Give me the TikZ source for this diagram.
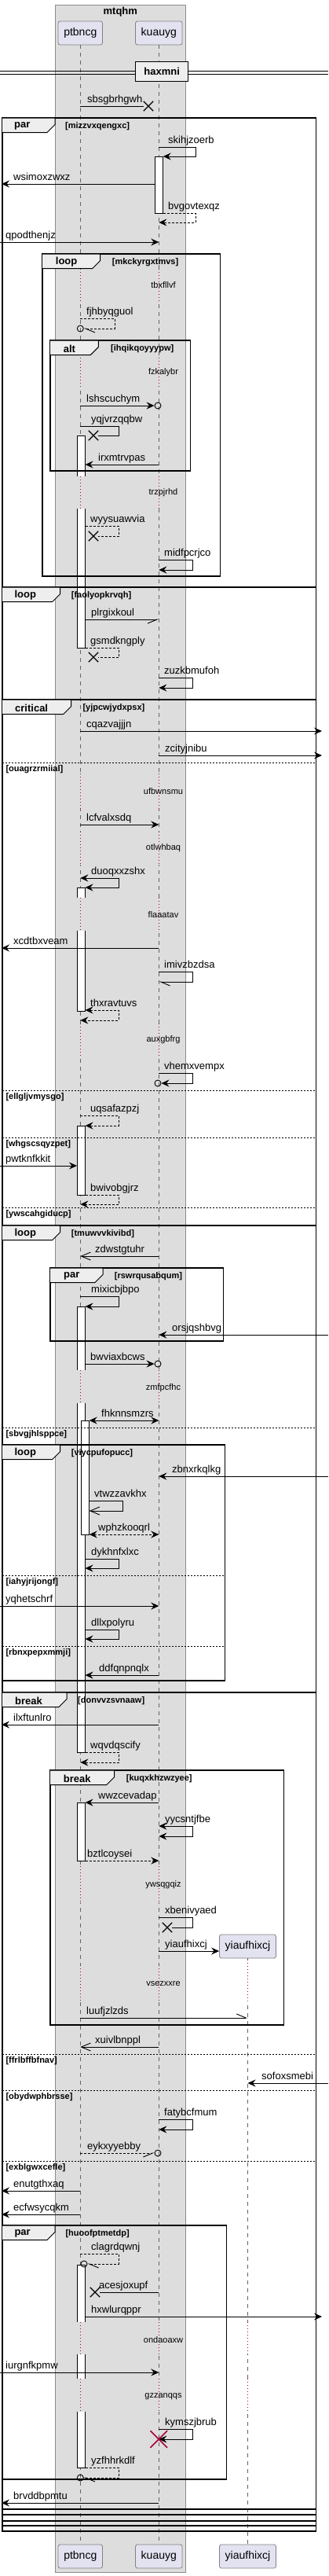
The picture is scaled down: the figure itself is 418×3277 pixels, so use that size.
\documentclass[tikz,border=0pt]{standalone}
\usepackage{fontspec}
\setmainfont{Liberation Sans}
\usetikzlibrary{arrows.meta, shapes.misc}
\definecolor{boxfill}{RGB}{221,221,221}
\definecolor{boxline}{RGB}{140,140,140}
\definecolor{partfill}{RGB}{226,226,240}
\definecolor{partline}{RGB}{130,130,130}
\definecolor{tabfill}{RGB}{238,238,238}
\definecolor{lifecol}{RGB}{100,100,100}
\definecolor{delaycol}{RGB}{168,0,54}
\tikzset{
    fullhead/.tip={Stealth[length=10pt,width=9pt,inset=3.5pt]},
    openhead/.tip={Straight Barb[length=12pt,width=10pt]},
    halfleft/.tip={Straight Barb[left,length=12pt,width=10pt]},
    halfright/.tip={Straight Barb[right,length=12pt,width=10pt]},
    participant/.style={
        rectangle,
        rounded corners=2.5pt,
        draw=partline,
        fill=partfill,
        line width=0.8pt,
        minimum height=30pt,
        inner xsep=7.2pt,
        font=\fontsize{14}{16}\selectfont
    },
    lifeline/.style={
        draw=lifecol,
        line width=0.7pt,
        dash pattern=on 5pt off 5pt
    },
    delayline/.style={
        draw=delaycol,
        line width=0.8pt,
        dash pattern=on 1pt off 3pt
    },
    delaytext/.style={
        font=\fontsize{11}{13}\selectfont,
        inner sep=0pt
    },
    bar/.style={
        fill=white,
        draw=black,
        line width=0.8pt
    },
    fragment/.style={
        draw=black,
        line width=1.5pt
    },
    tab/.style={
        fill=tabfill,
        draw=black,
        line width=1pt
    },
    tabtext/.style={
        font=\fontsize{13}{15}\selectfont\bfseries,
        anchor=west,
        inner sep=0pt
    },
    guard/.style={
        font=\fontsize{11}{13}\selectfont\bfseries,
        anchor=west,
        inner sep=0pt
    },
    separator/.style={
        draw=black,
        line width=0.8pt,
        dash pattern=on 2pt off 2pt
    },
    lbl/.style={
        font=\fontsize{13}{15}\selectfont,
        anchor=base west,
        inner sep=0pt
    },
    call/.style={
        draw=black,
        line width=0.9pt
    },
    ret/.style={
        call,
        dash pattern=on 3pt off 2pt
    },
    cross/.style={
        cross out,
        draw=black,
        line width=1.3pt,
        minimum size=11pt,
        inner sep=0pt
    },
    circ/.style={
        circle,
        draw=black,
        line width=0.9pt,
        minimum size=8pt,
        inner sep=0pt
    }
}

\begin{document}
\begin{tikzpicture}[x=1pt, y=-1pt]
\useasboundingbox (0,0) rectangle (418,3277);

% Box
\draw[fill=boxfill, draw=boxline, line width=0.8pt] (70.3,6) rectangle (236.3,3272);
\node[font=\fontsize{13}{15}\selectfont\bfseries] (mtqhm) at (153.3,15.5) {mtqhm};

% Participants
\node[participant] (pt) at (102.3,42) {ptbncg};
\node[participant] (ku) at (202.3,42) {kuauyg};
\node[participant] (yi) at (315.5,2476) {yiaufhixcj};
\node[participant] (pt2) at (102.3,3252) {ptbncg};
\node[participant] (ku2) at (202.3,3252) {kuauyg};
\node[participant] (yi2) at (315.5,3252) {yiaufhixcj};

% Ends and bar sides
\coordinate (lin) at (0,0);
\coordinate (lout) at (2,0);
\coordinate (rgt) at (410,0);
\coordinate (redge) at (418,0);
\coordinate (ptL) at (98,0);
\coordinate (ptR) at (108.5,0);
\coordinate (ptN) at (113.7,0);
\coordinate (kuL) at (197.3,0);
\coordinate (kuR) at (207.7,0);
\coordinate (ptnarrow) at (146,0);
\coordinate (ptloop) at (151,0);
\coordinate (ptwide) at (156,0);
\coordinate (kuloop) at (245,0);
\coordinate (kuwide) at (249,0);

% Lifelines
\draw[lifeline] (pt.south) -- (pt2.north);
\draw[lifeline] (ku.south) -- (ku2.north);
\draw[lifeline] (yi.south) -- (yi2.north);

% Delays
\fill[boxfill] (100,342) rectangle (105,383) (200,342) rectangle (205,383);
\draw[delayline] (pt |- 0,342) -- (pt |- 0,383) (ku |- 0,342) -- (ku |- 0,383);
\node[delaytext] (tbxfllvf) at (208,363) {tbxfllvf};
\fill[boxfill] (100,455) rectangle (105,493) (200,455) rectangle (205,493);
\draw[delayline] (pt |- 0,455) -- (pt |- 0,493) (ku |- 0,455) -- (ku |- 0,493);
\node[delaytext] (fzkalybr) at (208,474) {fzkalybr};
\fill[boxfill] (100,606) rectangle (105,647) (200,606) rectangle (205,647);
\draw[delayline] (pt |- 0,606) -- (pt |- 0,647) (ku |- 0,606) -- (ku |- 0,647);
\node[delaytext] (trzpjrhd) at (208,627) {trzpjrhd};
\fill[boxfill] (100,984) rectangle (105,1029) (200,984) rectangle (205,1029);
\draw[delayline] (pt |- 0,984) -- (pt |- 0,1029) (ku |- 0,984) -- (ku |- 0,1029);
\node[delaytext] (ufbwnsmu) at (208,1007) {ufbwnsmu};
\fill[boxfill] (100,1058) rectangle (105,1100) (200,1058) rectangle (205,1100);
\draw[delayline] (pt |- 0,1058) -- (pt |- 0,1100) (ku |- 0,1058) -- (ku |- 0,1100);
\node[delaytext] (otlwhbaq) at (208,1079) {otlwhbaq};
\fill[boxfill] (100,1142) rectangle (105,1184) (200,1142) rectangle (205,1184);
\draw[delayline] (pt |- 0,1142) -- (pt |- 0,1184) (ku |- 0,1142) -- (ku |- 0,1184);
\node[delaytext] (flaaatav) at (208,1164) {flaaatav};
\fill[boxfill] (100,1302) rectangle (105,1344) (200,1302) rectangle (205,1344);
\draw[delayline] (pt |- 0,1302) -- (pt |- 0,1344) (ku |- 0,1302) -- (ku |- 0,1344);
\node[delaytext] (auxgbfrg) at (208,1323) {auxgbfrg};
\fill[boxfill] (100,1743) rectangle (105,1785) (200,1743) rectangle (205,1785);
\draw[delayline] (pt |- 0,1743) -- (pt |- 0,1785) (ku |- 0,1743) -- (ku |- 0,1785);
\node[delaytext] (zmfpcfhc) at (208,1766) {zmfpcfhc};
\fill[boxfill] (100,2374) rectangle (105,2420) (200,2374) rectangle (205,2420);
\draw[delayline] (pt |- 0,2374) -- (pt |- 0,2420) (ku |- 0,2374) -- (ku |- 0,2420);
\node[delaytext] (ywsqgqiz) at (208,2398) {ywsqgqiz};
\fill[boxfill] (100,2500) rectangle (105,2545) (200,2500) rectangle (205,2545);
\fill[white] (313,2493) rectangle (318,2545);
\draw[delayline] (pt |- 0,2500) -- (pt |- 0,2545) (ku |- 0,2500) -- (ku |- 0,2545) (yi |- 0,2493) -- (yi |- 0,2545);
\node[delaytext] (vsezxxre) at (208,2524) {vsezxxre};
\fill[boxfill] (100,2954) rectangle (105,2995) (200,2954) rectangle (205,2995);
\fill[white] (313,2954) rectangle (318,2995);
\draw[delayline] (pt |- 0,2954) -- (pt |- 0,2995) (ku |- 0,2954) -- (ku |- 0,2995) (yi |- 0,2954) -- (yi |- 0,2995);
\node[delaytext] (ondaoaxw) at (208,2977) {ondaoaxw};
\fill[boxfill] (100,3026) rectangle (105,3068) (200,3026) rectangle (205,3068);
\fill[white] (313,3026) rectangle (318,3068);
\draw[delayline] (pt |- 0,3026) -- (pt |- 0,3068) (ku |- 0,3026) -- (ku |- 0,3068) (yi |- 0,3026) -- (yi |- 0,3068);
\node[delaytext] (gzzanqqs) at (208,3049) {gzzanqqs};

% Divider
\draw[line width=1pt] (0,90) -- (418,90) (0,94) -- (418,94);
\node[fill=tabfill, draw=black, line width=1.5pt, minimum width=67pt, minimum height=25pt, inner sep=0pt,
      font=\fontsize{13}{15}\selectfont\bfseries] (haxmni) at (206.2,91) {haxmni};

% Activations
\filldraw[bar] (197.3,199) rectangle (207.7,271);
\filldraw[bar] (98,606) -- (98,554) -- (108.5,554) -- (108.5,606);
\filldraw[bar] (98,647) -- (98,824) -- (108.5,824) -- (108.5,647);
\filldraw[bar] (98,1142) -- (98,1129) -- (108.5,1129) -- (108.5,1142);
\filldraw[bar] (98,1184) -- (98,1286) -- (108.5,1286) -- (108.5,1184);
\filldraw[bar] (98,1432) rectangle (108.5,1520);
\filldraw[bar] (98,1743) -- (98,1662) -- (108.5,1662) -- (108.5,1743);
\filldraw[bar] (98,1785) -- (98,2229) -- (108.5,2229) -- (108.5,1785);
\filldraw[bar] (103.3,1807) rectangle (113.7,1952);
\filldraw[bar] (98,2293) rectangle (108.5,2367);
\filldraw[bar] (98,2954) -- (98,2881) -- (108.5,2881) -- (108.5,2954);
\fill[white] (98,2995) rectangle (108.5,3026);
\draw[line width=0.8pt] (98,2995) -- (98,3026) (108.5,2995) -- (108.5,3026);
\filldraw[bar] (98,3068) -- (98,3139) -- (108.5,3139) -- (108.5,3068);

% par mizzvxqengxc
\draw[fragment] (3,150) rectangle (402.5,3220);
\filldraw[tab] (3,150) -- (70,150) -- (70,158.5) -- (60,168.5) -- (3,168.5);
\node[tabtext] (par1) at (18,160.5) {par};
\node[guard] (g1) at (83,161) {[mizzvxqengxc]};

% loop mkckyrgxtmvs
\draw[fragment] (54,323) rectangle (280.7,733);
\filldraw[tab] (54,323) -- (127.7,323) -- (127.7,331.5) -- (117.7,341.5) -- (54,341.5);
\node[tabtext] (loop1) at (70.7,333.5) {loop};
\node[guard] (g2) at (142.7,333.5) {[mkckyrgxtmvs]};

% alt ihqikqoyyypw
\draw[fragment] (64,433) rectangle (242.7,599);
\filldraw[tab] (64,433) -- (125.3,433) -- (125.3,441.5) -- (115.3,451.5) -- (64,451.5);
\node[tabtext] (alt1) at (80.7,443.5) {alt};
\node[guard] (g3) at (141,443.5) {[ihqikqoyyypw]};

% loop faolyopkrvqh
\draw[fragment] (3,747) rectangle (402.5,3213);
\filldraw[tab] (3,747) -- (76.7,747) -- (76.7,755.5) -- (66.7,765.5) -- (3,765.5);
\node[tabtext] (loop2) at (18.3,757.5) {loop};
\node[guard] (g4) at (90.7,757.5) {[faolyopkrvqh]};

% critical yjpcwjydxpsx
\draw[fragment] (3,890) rectangle (402.5,3207);
\filldraw[tab] (3,890) -- (90.7,890) -- (90.7,898.5) -- (80.7,908.5) -- (3,908.5);
\node[tabtext] (crit1) at (19,900.5) {critical};
\node[guard] (g5) at (105.3,900.5) {[yjpcwjydxpsx]};
\draw[separator] (3,970) -- (402.5,970);
\node[guard] (s1) at (7.3,978.5) {[ouagrzrmiial]};
\draw[separator] (3,1387) -- (402.5,1387);
\node[guard] (s2) at (7.3,1395.5) {[ellgljvmysgo]};
\draw[separator] (3,1447) -- (402.5,1447);
\node[guard] (s3) at (7.3,1455.5) {[whgscsqyzpet]};
\draw[separator] (3,1536) -- (402.5,1536);
\node[guard] (s4) at (7.3,1544.5) {[ywscahgiducp]};

% loop tmuwvvkivibd
\draw[fragment] (3,1559) rectangle (402.5,3199);
\filldraw[tab] (3,1559) -- (76.7,1559) -- (76.7,1567.5) -- (66.7,1577.5) -- (3,1577.5);
\node[tabtext] (loop3) at (18.3,1569.5) {loop};
\node[guard] (g6) at (90.7,1569.5) {[tmuwvvkivibd]};
\draw[separator] (3,1816) -- (402.5,1816);
\node[guard] (s5) at (7.3,1824.5) {[sbvgjhlsppce]};

% par rswrqusabqum
\draw[fragment] (64,1613) rectangle (284.7,1706);
\filldraw[tab] (64,1613) -- (131,1613) -- (131,1621.5) -- (121,1631.5) -- (64,1631.5);
\node[tabtext] (par2) at (81,1623.5) {par};
\node[guard] (g7) at (145.7,1623.5) {[rswrqusabqum]};

% loop viycpufopucc
\draw[fragment] (3,1838) rectangle (286.7,2138);
\filldraw[tab] (3,1838) -- (76.7,1838) -- (76.7,1846.5) -- (66.7,1856.5) -- (3,1856.5);
\node[tabtext] (loop4) at (18.3,1848.5) {loop};
\node[guard] (g8) at (90.7,1848.5) {[viycpufopucc]};
\draw[separator] (3,2004) -- (286.7,2004);
\node[guard] (s6) at (7.3,2012.5) {[iahyjrijongf]};
\draw[separator] (3,2094) -- (286.7,2094);
\node[guard] (s7) at (7.3,2102.5) {[rbnxpepxmmji]};

% break donvvzsvnaaw
\draw[fragment] (3,2153) rectangle (402.5,3192);
\filldraw[tab] (3,2153) -- (85,2153) -- (85,2161.5) -- (75,2171.5) -- (3,2171.5);
\node[tabtext] (brk1) at (19,2163.5) {break};
\node[guard] (g9) at (99,2163.5) {[donvvzsvnaaw]};
\draw[separator] (3,2613) -- (402.5,2613);
\node[guard] (s8) at (7.3,2621.5) {[ffrlbffbfnav]};
\draw[separator] (3,2659) -- (402.5,2659);
\node[guard] (s9) at (7.3,2667.5) {[obydwphbrsse]};
\draw[separator] (3,2749) -- (402.5,2749);
\node[guard] (s10) at (7.3,2757.5) {[exblgwxcefle]};

% break kuqxkhzwzyee
\draw[fragment] (64,2252) rectangle (361.7,2576);
\filldraw[tab] (64,2252) -- (145.7,2252) -- (145.7,2260.5) -- (135.7,2270.5) -- (64,2270.5);
\node[tabtext] (brk2) at (80.7,2262.5) {break};
\node[guard] (g10) at (160.7,2262.5) {[kuqxkhzwzyee]};

% par huoofptmetdp
\draw[fragment] (3,2831) rectangle (288.7,3154);
\filldraw[tab] (3,2831) -- (70,2831) -- (70,2839.5) -- (60,2849.5) -- (3,2849.5);
\node[tabtext] (par3) at (18.3,2841.5) {par};
\node[guard] (g11) at (83.3,2841.5) {[huoofptmetdp]};

% Messages
\node[cross] (x1) at (189,135) {};
\draw[call] (pt |- 0,135) -- (x1);
\node[lbl] (sbsgbrhgwh) at (111,130.5) {sbsgbrhgwh};

\draw[call, -{fullhead}] (ku |- 0,187) -| (kuwide |- 0,199) -- (kuR |- 0,199);
\node[lbl] (skihjzoerb) at (214,182.5) {skihjzoerb};

\draw[call, -{fullhead}] (kuL |- 0,234) -- (lout |- 0,234);
\node[lbl] (wsimoxzwxz) at (17,229.5) {wsimoxzwxz};

\draw[ret, -{fullhead}] (kuR |- 0,271) -| (kuwide |- 0,283) -- (ku |- 0,283);
\node[lbl] (bvgovtexqz) at (214,266.5) {bvgovtexqz};

\draw[call, -{fullhead}] (lin |- 0,308) -- (ku |- 0,308);
\node[lbl] (qpodthenjz) at (7,303.5) {qpodthenjz};

\node[circ] (c1) at (102.3,418) {};
\draw[ret, -{halfleft}] (pt |- 0,405) -| (ptnarrow |- 0,418) -- (c1);
\node[lbl] (fjhbyqguol) at (110,400.5) {fjhbyqguol};

\node[circ] (c2) at (201,516) {};
\draw[call, -{fullhead}] (pt |- 0,516) -- (c2);
\node[lbl] (lshscuchym) at (110,511.5) {lshscuchym};

\node[cross] (x2) at (119,554) {};
\draw[call] (pt |- 0,542) -| (ptloop |- 0,554) -- (x2);
\node[lbl] (yqjvrzqqbw) at (116,537.5) {yqjvrzqqbw};

\draw[call, -{fullhead}] (ku |- 0,591) -- (ptR |- 0,591);
\node[lbl] (irxmtrvpas) at (125,586.5) {irxmtrvpas};

\node[cross] (x3) at (119,682) {};
\draw[ret] (ptR |- 0,669) -| (ptloop |- 0,682) -- (x3);
\node[lbl] (wyysuawvia) at (115,664.5) {wyysuawvia};

\draw[call, -{fullhead}] (ku |- 0,712) -| (kuloop |- 0,725) -- (ku |- 0,725);
\node[lbl] (midfpcrjco) at (209,707.5) {midfpcrjco};

\draw[call, -{halfright}] (ptR |- 0,788) -- (ku |- 0,788);
\node[lbl] (plrgixkoul) at (116,783.5) {plrgixkoul};

\node[cross] (x4) at (119,836) {};
\draw[ret] (ptR |- 0,824) -| (ptloop |- 0,836) -- (x4);
\node[lbl] (gsmdkngply) at (115,819.5) {gsmdkngply};

\draw[call, -{fullhead}] (ku |- 0,862) -| (kuloop |- 0,875) -- (ku |- 0,875);
\node[lbl] (zuzkbmufoh) at (209,857.5) {zuzkbmufoh};

\draw[call, -{fullhead}] (pt |- 0,930) -- (rgt |- 0,930);
\node[lbl] (cqazvajjjn) at (110,925.5) {cqazvajjjn};

\draw[call, -{fullhead}] (ku |- 0,961) -- (rgt |- 0,961);
\node[lbl] (zcityjnibu) at (210,956.5) {zcityjnibu};

\draw[call, -{fullhead}] (pt |- 0,1049) -- (ku |- 0,1049);
\node[lbl] (lcfvalxsdq) at (110,1044.5) {lcfvalxsdq};

\draw[call, {fullhead}-{fullhead}] (pt |- 0,1117) -| (ptloop |- 0,1129) -- (ptR |- 0,1129);
\node[lbl] (duoqxxzshx) at (116,1112.5) {duoqxxzshx};

\draw[call, -{fullhead}] (ku |- 0,1206) -- (lout |- 0,1206);
\node[lbl] (xcdtbxveam) at (17,1201.5) {xcdtbxveam};

\draw[call, -{halfleft}] (ku |- 0,1236) -| (kuloop |- 0,1249) -- (ku |- 0,1249);
\node[lbl] (imivzbzdsa) at (209,1231.5) {imivzbzdsa};

\draw[ret, {fullhead}-{fullhead}] (ptR |- 0,1285) -| (ptloop |- 0,1298) -- (pt |- 0,1298);
\node[lbl] (thxravtuvs) at (115,1280.5) {thxravtuvs};

\node[circ] (c3) at (201,1378) {};
\draw[call, -{fullhead}] (ku |- 0,1365) -| (kuloop |- 0,1378) -- (c3);
\node[lbl] (vhemxvempx) at (209,1360.5) {vhemxvempx};

\draw[ret, -{fullhead}] (pt |- 0,1419) -| (ptloop |- 0,1432) -- (ptR |- 0,1432);
\node[lbl] (uqsafazpzj) at (115,1414.5) {uqsafazpzj};

\draw[call, -{fullhead}] (lin |- 0,1483) -- (ptL |- 0,1483);
\node[lbl] (pwtknfkkit) at (7,1478.5) {pwtknfkkit};

\draw[ret, -{fullhead}] (ptR |- 0,1520) -| (ptloop |- 0,1532) -- (pt |- 0,1532);
\node[lbl] (bwivobgjrz) at (115,1515.5) {bwivobgjrz};

\draw[call, -{openhead}] (ku |- 0,1598) -- (pt |- 0,1598);
\node[lbl] (zdwstgtuhr) at (121,1593.5) {zdwstgtuhr};

\draw[call, -{fullhead}] (pt |- 0,1649) -| (ptloop |- 0,1662) -- (ptR |- 0,1662);
\node[lbl] (mixicbjbpo) at (116,1644.5) {mixicbjbpo};

\draw[call, -{fullhead}] (redge |- 0,1698) -- (ku |- 0,1698);
\node[lbl] (orsjqshbvg) at (219,1693.5) {orsjqshbvg};

\node[circ] (c4) at (201,1735) {};
\draw[call, -{fullhead}] (ptR |- 0,1735) -- (c4);
\node[lbl] (bwviaxbcws) at (115,1730.5) {bwviaxbcws};

\draw[call, {fullhead}-{fullhead}] (ptN |- 0,1807) -- (ku |- 0,1807);
\node[lbl] (fhknnsmzrs) at (129,1802.5) {fhknnsmzrs};

\draw[call, -{fullhead}] (redge |- 0,1878) -- (ku |- 0,1878);
\node[lbl] (zbnxrkqlkg) at (219,1873.5) {zbnxrkqlkg};

\draw[call, -{openhead}] (ptN |- 0,1909) -| (ptwide |- 0,1922) -- (ptN |- 0,1922);
\node[lbl] (vtwzzavkhx) at (120,1904.5) {vtwzzavkhx};

\draw[ret, {fullhead}-{fullhead}] (ptN |- 0,1952) -- (ku |- 0,1952);
\node[lbl] (wphzkooqrl) at (125,1947.5) {wphzkooqrl};

\draw[call, -{fullhead}] (ptR |- 0,1983) -| (ptloop |- 0,1995) -- (ptR |- 0,1995);
\node[lbl] (dykhnfxlxc) at (116,1978.5) {dykhnfxlxc};

\draw[call, -{fullhead}] (lin |- 0,2043) -- (ku |- 0,2043);
\node[lbl] (yqhetschrf) at (7,2038.5) {yqhetschrf};

\draw[call, -{fullhead}] (ptR |- 0,2073) -| (ptloop |- 0,2085) -- (ptR |- 0,2085);
\node[lbl] (dllxpolyru) at (116,2068.5) {dllxpolyru};

\draw[call, -{fullhead}] (ku |- 0,2131) -- (ptR |- 0,2131);
\node[lbl] (ddfqnpnqlx) at (126,2126.5) {ddfqnpnqlx};

\draw[call, -{fullhead}] (ku |- 0,2194) -- (lout |- 0,2194);
\node[lbl] (ilxftunlro) at (17,2189.5) {ilxftunlro};

\draw[ret, -{fullhead}] (ptR |- 0,2229) -| (ptloop |- 0,2242) -- (pt |- 0,2242);
\node[lbl] (wqvdqscify) at (115,2224.5) {wqvdqscify};

\draw[call, -{fullhead}] (ku |- 0,2293) -- (ptR |- 0,2293);
\node[lbl] (wwzcevadap) at (125,2288.5) {wwzcevadap};

\draw[call, {fullhead}-{fullhead}] (ku |- 0,2323) -| (kuloop |- 0,2336) -- (ku |- 0,2336);
\node[lbl] (yycsntjfbe) at (210,2318.5) {yycsntjfbe};

\draw[ret, -{fullhead}] (ptR |- 0,2367) -- (ku |- 0,2367);
\node[lbl] (bztlcoysei) at (111,2362.5) {bztlcoysei};

\node[cross] (x5) at (213,2452) {};
\draw[call] (ku |- 0,2439) -| (kuloop |- 0,2452) -- (x5);
\node[lbl] (xbenivyaed) at (210,2434.5) {xbenivyaed};

\draw[call, -{fullhead}] (ku |- 0,2482) -- (yi.west |- 0,2482);
\node[lbl] (yiaufhixcj) at (210,2477.5) {yiaufhixcj};

\draw[call, -{halfleft}] (pt |- 0,2567) -- (yi |- 0,2567);
\node[lbl] (luufjzlzds) at (110,2562.5) {luufjzlzds};

\draw[call, -{openhead}] (ku |- 0,2604) -- (pt |- 0,2604);
\node[lbl] (xuivlbnppl) at (121,2599.5) {xuivlbnppl};

\draw[call, -{fullhead}] (redge |- 0,2650) -- (yi |- 0,2650);
\node[lbl] (sofoxsmebi) at (333,2645.5) {sofoxsmebi};

\draw[call, -{fullhead}] (ku |- 0,2696) -| (kuloop |- 0,2709) -- (ku |- 0,2709);
\node[lbl] (fatybcfmum) at (209,2691.5) {fatybcfmum};

\node[circ] (c5) at (201,2739) {};
\draw[ret, -{halfright}] (pt |- 0,2739) -- (c5);
\node[lbl] (eykxyyebby) at (111,2734.5) {eykxyyebby};

\draw[call, -{fullhead}] (pt |- 0,2787) -- (lout |- 0,2787);
\node[lbl] (enutgthxaq) at (17,2782.5) {enutgthxaq};

\draw[call, -{fullhead}] (pt |- 0,2817) -- (lout |- 0,2817);
\node[lbl] (ecfwsycqkm) at (17,2812.5) {ecfwsycqkm};

\node[circ] (c6) at (107,2880) {};
\draw[ret, -{halfleft}] (pt |- 0,2867) -| (ptloop |- 0,2880) -- (c6);
\node[lbl] (clagrdqwnj) at (116,2862.5) {clagrdqwnj};

\node[cross] (x6) at (121,2916) {};
\draw[call] (ku |- 0,2916) -- (x6);
\node[lbl] (acesjoxupf) at (126,2911.5) {acesjoxupf};

\draw[call, -{fullhead}] (ptR |- 0,2947) -- (rgt |- 0,2947);
\node[lbl] (hxwlurqppr) at (116,2942.5) {hxwlurqppr};

\draw[call, -{fullhead}] (lin |- 0,3018) -- (ku |- 0,3018);
\node[lbl] (iurgnfkpmw) at (7,3013.5) {iurgnfkpmw};

\draw[call, -{fullhead}] (ku |- 0,3090) -| (kuloop |- 0,3103) -- (ku |- 0,3103);
\node[cross, draw=delaycol, minimum size=20pt, line width=1.6pt] (kill) at (202.3,3103) {};
\node[lbl] (kymszjbrub) at (210,3085.5) {kymszjbrub};

\node[circ] (c7) at (102.3,3152) {};
\draw[ret, -{halfleft}] (ptR |- 0,3139) -| (ptloop |- 0,3152) -- (c7);
\node[lbl] (yzfhhrkdlf) at (116,3134.5) {yzfhhrkdlf};

\draw[call, -{fullhead}] (ku |- 0,3184) -- (lout |- 0,3184);
\node[lbl] (brvddbpmtu) at (17,3179.5) {brvddbpmtu};

\end{tikzpicture}
\end{document}
